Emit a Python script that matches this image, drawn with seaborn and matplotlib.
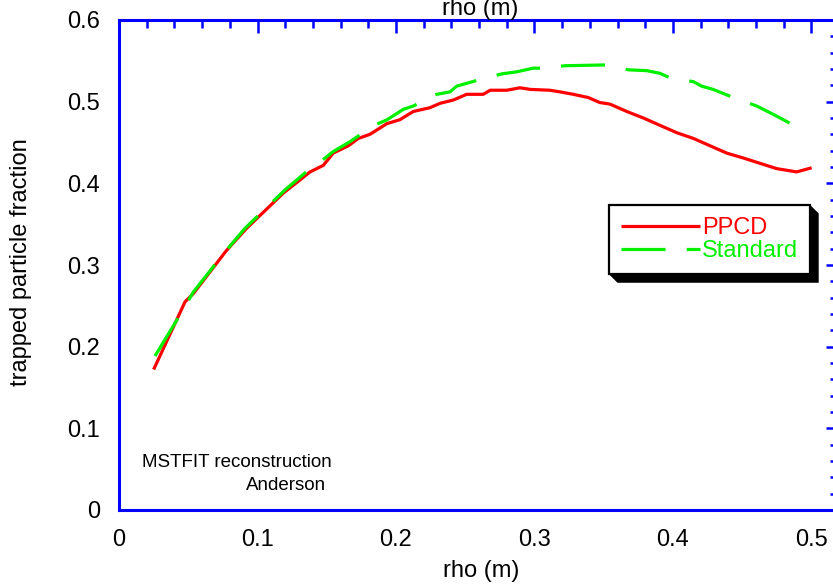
import matplotlib
matplotlib.use("Agg")
import matplotlib.pyplot as plt
import seaborn as sns
import numpy as np
from matplotlib.patches import Polygon
from matplotlib.transforms import IdentityTransform
from matplotlib.ticker import MultipleLocator

# ---------------- data ----------------
rho_ppcd = [0.025, 0.0477, 0.0537, 0.0777, 0.0922, 0.1186, 0.138, 0.1475, 0.1547,
            0.1656, 0.1728, 0.1812, 0.1933, 0.2029, 0.2125, 0.2245, 0.2318, 0.2414,
            0.251, 0.263, 0.268, 0.280, 0.2895, 0.297, 0.311, 0.3184, 0.328, 0.3389,
            0.347, 0.3545, 0.3666, 0.3786, 0.3906, 0.4027, 0.4147, 0.4267, 0.4388,
            0.4508, 0.4628, 0.4749, 0.4893, 0.5001]
ppcd = [0.172, 0.255, 0.265, 0.318, 0.345, 0.388, 0.414, 0.422, 0.437,
        0.446, 0.455, 0.460, 0.473, 0.478, 0.488, 0.4926, 0.498, 0.502,
        0.509, 0.509, 0.514, 0.514, 0.517, 0.515, 0.514, 0.512, 0.509, 0.505,
        0.499, 0.497, 0.488, 0.480, 0.471, 0.462, 0.455, 0.446, 0.437,
        0.431, 0.4245, 0.418, 0.414, 0.419]

rho_std = [0.026, 0.044, 0.0537, 0.0765, 0.091, 0.1199, 0.138, 0.1451, 0.1547,
           0.1668, 0.1836, 0.1933, 0.2053, 0.2125, 0.2294, 0.239, 0.2438, 0.2583,
           0.2763, 0.287, 0.299, 0.305, 0.322, 0.352, 0.3677, 0.381, 0.3906, 0.398,
           0.4147, 0.4207, 0.429, 0.4436, 0.4604, 0.4724, 0.4845, 0.4897]
standard = [0.1886, 0.2388, 0.267, 0.316, 0.345, 0.392, 0.418, 0.426, 0.439,
            0.451, 0.4706, 0.4776, 0.4906, 0.4947, 0.509, 0.512, 0.519, 0.526,
            0.534, 0.5365, 0.541, 0.541, 0.544, 0.545, 0.539, 0.538, 0.5347, 0.529,
            0.5245, 0.519, 0.515, 0.505, 0.4947, 0.4845, 0.4735, 0.4706]

series_labels = ["PPCD", "Standard"]
x_ticks = [0, 0.1, 0.2, 0.3, 0.4, 0.5]
x_tick_labels = ["0", "0.1", "0.2", "0.3", "0.4", "0.5"]
y_ticks = [0, 0.1, 0.2, 0.3, 0.4, 0.5, 0.6]
y_tick_labels = ["0", "0.1", "0.2", "0.3", "0.4", "0.5", "0.6"]

# ---------------- style ----------------
sns.set_style("white")
plt.rcParams["font.family"] = ["Liberation Sans", "DejaVu Sans"]
plt.rcParams["lines.solid_capstyle"] = "butt"
plt.rcParams["lines.dash_capstyle"] = "butt"
plt.rcParams["text.color"] = "black"
plt.rcParams["axes.labelcolor"] = "black"

BLUE = "#0000FF"
RED = "#FF0000"
GREEN = "#00F000"

W, H = 833, 585
fig = plt.figure(figsize=(W / 100, H / 100), dpi=100, facecolor="white")
# axes: left 119px, right 838px (beyond the edge), top 20px, bottom 510px
ax = fig.add_axes([119 / W, (H - 510) / H, 719 / W, 490 / H])
ax.patch.set_alpha(0)

sns.lineplot(x=rho_ppcd, y=ppcd, ax=ax, color=RED, lw=2.3, sort=False,
             estimator=None, label=series_labels[0])
sns.lineplot(x=rho_std, y=standard, ax=ax, color=GREEN, lw=2.3, sort=False,
             estimator=None, label=series_labels[1], linestyle=(0, (13.8, 6.6)))

ax.set_xlim(0, 719 / 1385)
ax.set_ylim(0, 0.6)
ax.set_xticks(x_ticks, x_tick_labels)
ax.set_yticks(y_ticks, y_tick_labels)
ax.xaxis.set_minor_locator(MultipleLocator(0.02))
ax.yaxis.set_minor_locator(MultipleLocator(0.02))

for s in ax.spines.values():
    s.set_color(BLUE)
    s.set_linewidth(2.2)
    s.set_visible(True)

ax.tick_params(which="both", direction="in", top=True, right=True,
               color=BLUE, width=1.8, labelcolor="black", labelsize=17, pad=13.5)
ax.tick_params(which="major", length=9)
ax.tick_params(which="minor", length=5.8)

ax.set_xlabel("rho (m)", fontsize=17, va="baseline", color="black")
ax.xaxis.set_label_coords((481 - 119) / 719, (510 - 576.7) / 490)
ax.set_ylabel("trapped particle fraction", fontsize=17, va="center", color="black")
ax.yaxis.set_label_coords((21 - 119) / 719, (510 - 262.5) / 490)

# mirrored top axis title (clipped by the figure edge)
fig.text(480 / W, 1 - 14.5 / H, "rho (m)", fontsize=17, ha="center",
         va="baseline", color="black")

ax.text(0.0166, 0.053, "MSTFIT reconstruction", fontsize=13.5, ha="left",
        va="baseline", color="black")
ax.text(0.1495, 0.0245, "Anderson", fontsize=13.5, ha="right", va="baseline",
        color="black")

leg = ax.legend(loc="upper left", bbox_to_anchor=(609 / W, 1 - 205 / H),
                bbox_transform=fig.transFigure, borderaxespad=0,
                fontsize=17, handlelength=3.35, handletextpad=0.1,
                borderpad=0.5, labelspacing=0.07, fancybox=False,
                frameon=True, shadow=False)
frame = leg.get_frame()
frame.set_edgecolor("black")
frame.set_linewidth(1.6)
frame.set_facecolor("white")
frame.set_alpha(1)
for txt, c in zip(leg.get_texts(), [RED, GREEN]):
    txt.set_color(c)

fig.canvas.draw()
bb = leg.get_window_extent()
d = 8.5
x0, y0, x1, y1 = bb.x0, bb.y0, bb.x1, bb.y1
shadow = Polygon([(x1, y1), (x1 + d, y1 - d), (x1 + d, y0 - d), (x0 + d, y0 - d),
                  (x0, y0), (x1, y0)], closed=True, facecolor="black",
                 edgecolor="none", transform=IdentityTransform(), zorder=-1)
fig.patches.append(shadow)
shadow.set_figure(fig)

fig.savefig("out.png", dpi=100, facecolor="white")
